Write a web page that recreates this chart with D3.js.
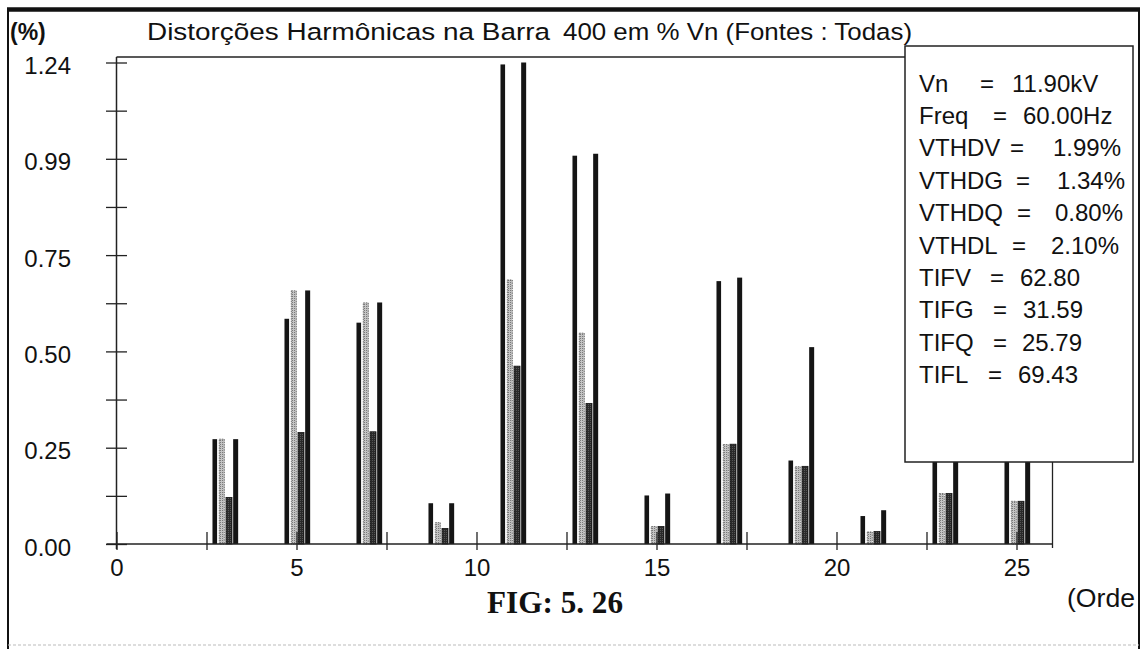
<!DOCTYPE html>
<html>
<head>
<meta charset="utf-8">
<script src="https://cdn.jsdelivr.net/npm/d3@7"></script>
<style>
  html, body { margin: 0; padding: 0; background: #fff; }
  svg { display: block; }
  text { font-family: "Liberation Sans", Arial, sans-serif; fill: #111; }
</style>
</head>
<body>
<svg id="chart" width="1148" height="649"></svg>
<script>
// ---------------- data ----------------
const harmonics = [3, 5, 7, 9, 11, 13, 15, 17, 19, 21, 23, 25];
const seriesNames = ["V", "G", "Q", "L"];
const valuesV = [0.27, 0.58, 0.57, 0.105, 1.235, 1.00, 0.125, 0.677, 0.215, 0.072, 0.28, 0.28];
const valuesG = [0.27, 0.652, 0.621, 0.055, 0.68, 0.543, 0.045, 0.256, 0.199, 0.031, 0.13, 0.11];
const valuesQ = [0.12, 0.287, 0.289, 0.04, 0.458, 0.362, 0.045, 0.257, 0.20, 0.032, 0.13, 0.11];
const valuesL = [0.27, 0.653, 0.622, 0.105, 1.24, 1.005, 0.13, 0.686, 0.507, 0.087, 0.33, 0.33];

const yTicks = [0, 0.124, 0.248, 0.372, 0.496, 0.62, 0.744, 0.868, 0.992, 1.116, 1.24];
const yTickLabels = ["0.00", "", "0.25", "", "0.50", "", "0.75", "", "0.99", "", "1.24"];
const xTicks = [0, 2.5, 5, 7.5, 10, 12.5, 15, 17.5, 20, 22.5, 25];
const xTickLabels = ["0", "", "5", "", "10", "", "15", "", "20", "", "25"];

const titleUnit = "(%)";
const titleText = "Distorções Harmônicas na Barra";
const titleText2 = "400 em % Vn (Fontes : Todas)";
const xAxisName = "(Orde";
const figCaption = "FIG: 5. 26";

const legendLabels = ["Vn", "Freq", "VTHDV", "VTHDG", "VTHDQ", "VTHDL", "TIFV", "TIFG", "TIFQ", "TIFL"];
const legendValues = ["11.90kV", "60.00Hz", "1.99%", "1.34%", "0.80%", "2.10%", "62.80", "31.59", "25.79", "69.43"];

// ---------------- layout / style ----------------
const legendEqX  = [980, 993, 1010, 1016, 1017, 1012, 990, 993, 993, 988];
const legendValX = [1012, 1023, 1053, 1057, 1055, 1051, 1020, 1023, 1022, 1018];

const seriesOffset = { V: -0.27, G: -0.075, Q: 0.125, L: 0.31 };
const seriesWidthPx = { V: 4.6, G: 5, Q: 6, L: 5 };

const svg = d3.select("#chart");
svg.append("rect").attr("width", 1148).attr("height", 649).attr("fill", "#fff");

const defs = svg.append("defs");
const pat = defs.append("pattern").attr("id", "gpat").attr("patternUnits", "userSpaceOnUse")
  .attr("width", 2).attr("height", 2);
pat.append("rect").attr("width", 2).attr("height", 2).attr("fill", "#c4c4c4");
pat.append("rect").attr("width", 1).attr("height", 1).attr("fill", "#7a7a7a");
const qpat = defs.append("pattern").attr("id", "qpat").attr("patternUnits", "userSpaceOnUse")
  .attr("width", 2).attr("height", 2);
qpat.append("rect").attr("width", 2).attr("height", 2).attr("fill", "#2a2a2a");
qpat.append("rect").attr("width", 1).attr("height", 1).attr("fill", "#555");

const x = d3.scaleLinear().domain([0, 26]).range([116.5, 1052.5]);
const y = d3.scaleLinear().domain([0, 1.24]).range([544, 62.5]);
const plotTop = y(1.24) - 5.5;

// outer frame
svg.append("line").attr("x1", 8).attr("x2", 8).attr("y1", 8).attr("y2", 649)
  .attr("stroke", "#111").attr("stroke-width", 2);
svg.append("line").attr("x1", 1139).attr("x2", 1139).attr("y1", 8).attr("y2", 649)
  .attr("stroke", "#111").attr("stroke-width", 2);
svg.append("line").attr("x1", 7).attr("x2", 1140).attr("y1", 9.5).attr("y2", 9.5)
  .attr("stroke", "#111").attr("stroke-width", 4.5);
svg.append("line").attr("x1", 8).attr("x2", 1139).attr("y1", 645).attr("y2", 645)
  .attr("stroke", "#bbb").attr("stroke-width", 1).attr("stroke-dasharray", "3,2");

// titles
svg.append("text").attr("x", 10).attr("y", 40).attr("font-size", 23).attr("font-weight", "bold").text(titleUnit);
svg.append("text").attr("x", 147).attr("y", 40).attr("font-size", 24.5)
  .attr("textLength", 403).attr("lengthAdjust", "spacingAndGlyphs").text(titleText);
svg.append("text").attr("x", 563).attr("y", 40).attr("font-size", 24.5)
  .attr("textLength", 349).attr("lengthAdjust", "spacingAndGlyphs").text(titleText2);

// plot frame (top + right)
svg.append("line").attr("x1", x(0)).attr("x2", x(26)).attr("y1", plotTop).attr("y2", plotTop)
  .attr("stroke", "#222").attr("stroke-width", 1.3);
svg.append("line").attr("x1", x(26)).attr("x2", x(26)).attr("y1", plotTop).attr("y2", y(0) + 4)
  .attr("stroke", "#222").attr("stroke-width", 1.3);

// bars
const seriesValues = { V: valuesV, G: valuesG, Q: valuesQ, L: valuesL };
const seriesFill = { V: "#151515", G: "url(#gpat)", Q: "url(#qpat)", L: "#151515" };
const seriesStroke = { V: "none", G: "#555", Q: "#111", L: "none" };
seriesNames.forEach(s => {
  const rows = harmonics.map((h, i) => ({ h, v: seriesValues[s][i] }));
  svg.append("g").attr("class", "series-" + s)
    .selectAll("rect").data(rows).join("rect")
    .attr("x", d => x(d.h + seriesOffset[s]) - seriesWidthPx[s] / 2)
    .attr("width", seriesWidthPx[s])
    .attr("y", d => y(d.v))
    .attr("height", d => y(0) - y(d.v))
    .attr("fill", seriesFill[s])
    .attr("stroke", seriesStroke[s])
    .attr("stroke-width", 0.8)
    .attr("stroke-dasharray", s === "G" ? "1.5,1" : null);
});

// y axis
const yAxis = svg.append("g").attr("transform", `translate(${x(0)},0)`)
  .call(d3.axisLeft(y).tickValues(yTicks).tickSize(0).tickPadding(0)
    .tickFormat((d, i) => yTickLabels[i]));
yAxis.select(".domain").remove();
yAxis.selectAll(".tick line").attr("x1", -10.5).attr("x2", 10.5)
  .attr("stroke", "#222").attr("stroke-width", 1.3);
yAxis.selectAll(".tick text").attr("x", 71 - x(0)).attr("dy", 11)
  .attr("text-anchor", "end").attr("font-size", 24).attr("font-family", null).attr("fill", "#111");
svg.append("line").attr("x1", x(0)).attr("x2", x(0)).attr("y1", plotTop).attr("y2", y(0) + 5)
  .attr("stroke", "#222").attr("stroke-width", 1.5);

// x axis
const xAxis = svg.append("g").attr("transform", `translate(0,${y(0)})`)
  .call(d3.axisBottom(x).tickValues(xTicks).tickSize(0).tickPadding(0)
    .tickFormat((d, i) => xTickLabels[i]));
xAxis.select(".domain").remove();
xAxis.selectAll(".tick line").attr("y1", -12).attr("y2", 6)
  .attr("stroke", "#222").attr("stroke-width", 1.3);
xAxis.selectAll(".tick text").attr("y", 32).attr("dy", 0)
  .attr("font-size", 24).attr("font-family", null).attr("fill", "#111");
svg.append("line").attr("x1", x(0) - 10).attr("x2", x(26)).attr("y1", y(0)).attr("y2", y(0))
  .attr("stroke", "#222").attr("stroke-width", 1.5);

svg.append("text").attr("x", 1067).attr("y", 607).attr("font-size", 26)
  .attr("textLength", 68).attr("lengthAdjust", "spacingAndGlyphs").text(xAxisName);
svg.append("text").attr("x", 487).attr("y", 613)
  .attr("font-weight", "bold").attr("font-size", 31)
  .attr("textLength", 136).attr("lengthAdjust", "spacingAndGlyphs")
  .style("font-family", "'Liberation Serif', 'Times New Roman', serif")
  .text(figCaption);

// legend box
const lg = svg.append("g");
lg.append("rect").attr("x", 905).attr("y", 46).attr("width", 228).attr("height", 416)
  .attr("fill", "#fff").attr("stroke", "#222").attr("stroke-width", 1.5);
legendLabels.forEach((lab, i) => {
  const by = 91.5 + i * 32.4;
  lg.append("text").attr("x", 919).attr("y", by).attr("font-size", 24).text(lab);
  lg.append("text").attr("x", legendEqX[i]).attr("y", by).attr("font-size", 24).text("=");
  lg.append("text").attr("x", legendValX[i]).attr("y", by).attr("font-size", 24).text(legendValues[i]);
});
</script>
</body>
</html>
